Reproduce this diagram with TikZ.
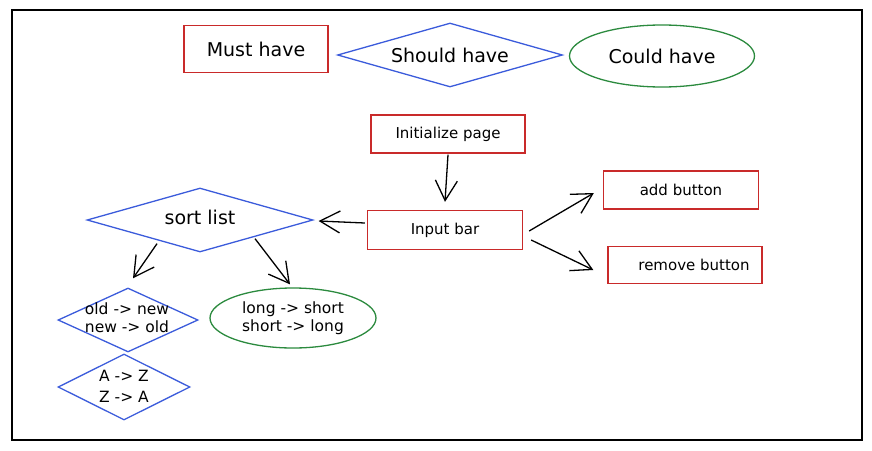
\documentclass[tikz,border=0pt]{standalone}
\usepackage{fontspec}
\setmainfont{DejaVu Sans}
\usetikzlibrary{shapes.geometric,arrows.meta}
\definecolor{exred}{HTML}{C92A2A}
\definecolor{exblue}{HTML}{3B5BDB}
\definecolor{exgreen}{HTML}{2B8A3E}
\tikzset{
  redbox/.style={draw=exred, line width=1.3pt, rectangle, inner sep=0pt},
  bluedia/.style={draw=exblue, line width=1.3pt, diamond, inner sep=0pt},
  greenell/.style={draw=exgreen, line width=1.3pt, ellipse, inner sep=0pt},
  arr/.style={-{Straight Barb[length=20pt,width=22pt]}, line width=1.3pt, black},
  big/.style={font=\fontsize{19}{22}\selectfont},
  mid/.style={font=\fontsize{19}{22}\selectfont},
  small/.style={font=\fontsize{15}{18}\selectfont},
  twol/.style={font=\fontsize{15.5}{18}\selectfont, align=center, inner sep=0pt},
  twolb/.style={font=\fontsize{15.5}{21}\selectfont, align=center, inner sep=0pt},
}
\begin{document}
\begin{tikzpicture}[x=1pt,y=-1pt]
\useasboundingbox (0,0) rectangle (872,450);
\node[draw=black, line width=1.4pt, rectangle, minimum width=850, minimum height=430, inner sep=0pt] (frame) at (437,225) {};

\node[redbox, minimum width=144, minimum height=47, big] (must) at (256,49) {Must have};
\node[bluedia, minimum width=225, minimum height=64] (should) at (450,55) {};
\node[big] (shouldtxt) at (should) {Should have};
\node[greenell, minimum width=185, minimum height=62, big] (could) at (662,56) {Could have};

\node[redbox, minimum width=154, minimum height=38, small] (init) at (448,134) {Initialize page};
\node[redbox, minimum width=155, minimum height=39, small] (input) at (445,230) {Input bar};
\node[redbox, minimum width=155, minimum height=38, small] (add) at (681,190) {add button};
\node[redbox, minimum width=154, minimum height=37, small] (remove) at (685,265) {\hspace{18pt}remove button};

\node[bluedia, minimum width=226, minimum height=64] (sort) at (200,220) {};
\node[mid] (sorttxt) at (200,217) {sort list};
\node[bluedia, minimum width=140, minimum height=64] (oldnew) at (128,320) {};
\node[twol] (oldnewtxt) at (127,318) {old -> new\\new -> old};
\node[bluedia, minimum width=132, minimum height=66] (az) at (124,387) {};
\node[twolb] (aztxt) at (124,386) {A -> Z\\Z -> A};
\node[greenell, minimum width=166, minimum height=60, twol] (longshort) at (293,318) {long -> short\\short -> long};

\draw[arr] ([yshift=-1]init.south) -- ([yshift=8]input.north);
\draw[arr] ([xshift=-2,yshift=7]input.west) -- ([xshift=5,yshift=-1]sort.east);
\draw[arr] ([xshift=6,yshift=-1]input.east) -- ([xshift=-9,yshift=-3]add.west);
\draw[arr] ([xshift=8,yshift=-10]input.east) -- ([xshift=-14,yshift=-5]remove.west);
\draw[arr] ([xshift=-43,yshift=9]sort.south) -- ([xshift=5,yshift=9]oldnew.north);
\draw[arr] ([xshift=55,yshift=14]sort.south) -- ([xshift=-3,yshift=3]longshort.north);
\end{tikzpicture}
\end{document}
